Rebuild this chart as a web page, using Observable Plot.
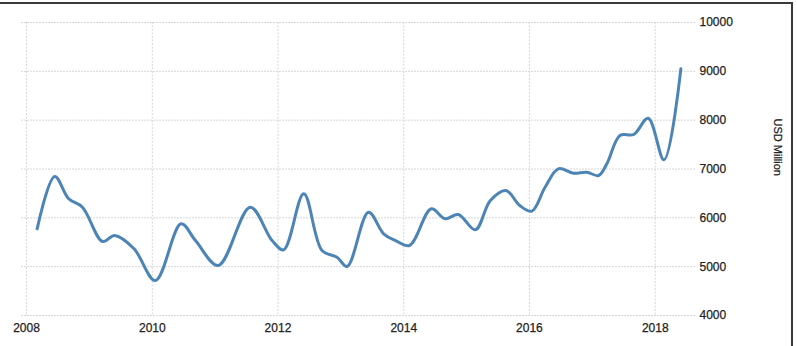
<!DOCTYPE html>
<html>
<head>
<meta charset="utf-8">
<script src="https://cdn.jsdelivr.net/npm/d3@7"></script>
<script src="https://cdn.jsdelivr.net/npm/@observablehq/plot@0.6"></script>
<style>
  html, body { margin: 0; padding: 0; background: #fff; }
  #wrap { position: relative; width: 797px; height: 346px; overflow: hidden; }
  #border { position: absolute; left: 0; top: 2px; width: 791px; height: 400px;
            border-top: 2px solid #3a3a3a; border-right: 2px solid #3a3a3a; pointer-events: none; }
  svg { display: block; }
  svg text { stroke: #222; stroke-width: 0.25px; }
</style>
</head>
<body>
<div id="wrap"><div id="chart"></div><div id="border"></div></div>
<script>
// Values
const dates = [
  "2008-03-03", "2008-06-13", "2008-09-02", "2008-11-21", "2009-03-18", "2009-05-27",
  "2009-09-17", "2010-01-19", "2010-06-17", "2010-09-09", "2011-01-19", "2011-07-24",
  "2011-11-28", "2012-02-03", "2012-05-30", "2012-09-13", "2012-12-09", "2013-02-06",
  "2013-06-10", "2013-09-06", "2013-11-14", "2014-02-03", "2014-06-10", "2014-08-29",
  "2014-11-14", "2015-02-21", "2015-05-19", "2015-08-18", "2015-11-06", "2016-01-15",
  "2016-04-01", "2016-06-17", "2016-09-13", "2016-11-29", "2017-02-06", "2017-03-26",
  "2017-06-10", "2017-08-29", "2017-11-21", "2018-02-21", "2018-05-30"
];
const values = [
  5775, 6846, 6390, 6218, 5515, 5638,
  5366, 4716, 5877, 5535, 5024, 6218,
  5535, 5345, 6492, 5331, 5194, 5003,
  6115, 5673, 5535, 5433, 6185, 5980,
  6068, 5755, 6355, 6560, 6252, 6136,
  6627, 7004, 6914, 6935, 6867, 7106,
  7686, 7706, 8040, 7188, 9052
];
const yearTicks = ["2008", "2010", "2012", "2014", "2016", "2018"];
const valueTicks = [4000, 5000, 6000, 7000, 8000, 9000, 10000];
const unitLabel = ["USD Million"];

const data = dates.map((d, i) => ({date: new Date(d), value: values[i]}));
const yearDates = yearTicks.map(y => new Date(y + "-01-01"));

const chart = Plot.plot({
  width: 797,
  height: 346,
  marginLeft: 21,
  marginRight: 102,
  marginTop: 22,
  marginBottom: 31,
  style: {fontFamily: "'Liberation Sans', Arial, sans-serif", fontSize: "12px", color: "#222", background: "#fff"},
  x: {type: "utc", domain: [new Date("2007-12-03"), new Date("2018-08-23")]},
  y: {domain: [4000, 10000]},
  marks: [
    Plot.gridY(valueTicks, {stroke: "#d6d6d6", strokeOpacity: 1, strokeDasharray: "2,1"}),
    Plot.gridX(yearDates, {stroke: "#d6d6d6", strokeOpacity: 1, strokeDasharray: "2,1.5"}),
    Plot.axisX(yearDates, {tickSize: 0, tickPadding: 8, tickFormat: d3.utcFormat("%Y"), label: null, fontSize: 12}),
    Plot.axisY(valueTicks, {anchor: "right", tickSize: 0, tickPadding: 4, tickFormat: d3.format("d"), label: null, fontSize: 12}),
    Plot.line(data, {x: "date", y: "value", curve: "catmull-rom", stroke: "#4d84b6", strokeWidth: 3,
                     strokeLinejoin: "round", strokeLinecap: "round"}),
    Plot.text(unitLabel, {frameAnchor: "right", dx: 82, dy: 7, rotate: 90, fontSize: 11, fill: "#222"})
  ]
});
document.getElementById("chart").appendChild(chart);
</script>
</body>
</html>
